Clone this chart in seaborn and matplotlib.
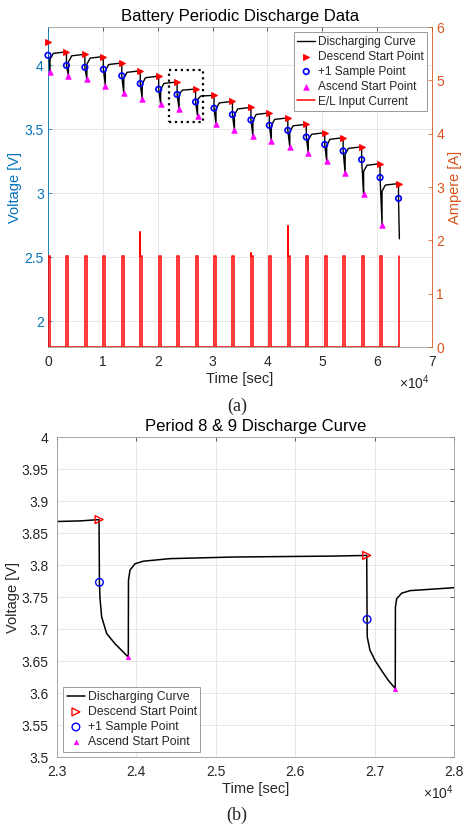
import matplotlib
matplotlib.use("Agg")
import matplotlib.pyplot as plt
import seaborn as sns
from matplotlib.patches import Rectangle
from matplotlib.ticker import FuncFormatter

# ---- data (time in s, voltage in V, current in A) ----
# one entry per discharge period
desc_t = [0, 3360, 6720, 10090, 13450, 16810, 20170, 23532, 26897, 30260,
          33620, 36990, 40350, 43710, 47080, 50440, 53800, 57170, 60530, 63890]
desc_v = [4.185, 4.106, 4.087, 4.069, 4.019, 3.958, 3.916, 3.871, 3.815, 3.766,
          3.719, 3.672, 3.629, 3.590, 3.540, 3.474, 3.435, 3.364, 3.232, 3.077]
samp_v = [4.079, 4.000, 3.985, 3.969, 3.919, 3.858, 3.814, 3.773, 3.715, 3.666,
          3.616, 3.574, 3.532, 3.493, 3.440, 3.382, 3.332, 3.264, 3.124, 2.961]
asc_t = [360, 3720, 7080, 10450, 13810, 17170, 20530, 23900, 27256, 30620,
         33980, 37350, 40710, 44070, 47440, 50800, 54160, 57530, 60890]
asc_v = [3.948, 3.919, 3.890, 3.843, 3.782, 3.735, 3.698, 3.656, 3.607, 3.545,
         3.493, 3.451, 3.408, 3.366, 3.319, 3.253, 3.158, 2.998, 2.756]
# top of the recovery jump and the value once it has settled
jump_v = [4.046, 4.027, 4.009, 3.959, 3.898, 3.856, 3.811, 3.776, 3.734, 3.659,
          3.612, 3.569, 3.530, 3.480, 3.414, 3.375, 3.304, 3.172, 3.017]
settle_t = [960, 4320, 7680, 11050, 14410, 17770, 21130, 24500, 27856, 31220,
            34580, 37950, 41310, 44670, 48040, 51400, 54760, 58130, 61490]
settle_v = [4.094, 4.075, 4.057, 4.007, 3.946, 3.904, 3.859, 3.807, 3.761, 3.707,
            3.660, 3.617, 3.578, 3.528, 3.462, 3.423, 3.352, 3.220, 3.065]
end_t, end_v = 64050, 2.645

# E/L load current
pulse_level = 1.70
pulse_peak = [1.70, 1.70, 1.70, 1.70, 1.70, 2.16, 1.70, 1.70, 1.70, 1.70,
              1.70, 1.76, 1.70, 2.27, 1.70, 1.70, 1.70, 1.70, 1.70, 1.70]

# detailed curve for period 8 & 9 (panel b)
zoom_t = [23000, 23300, 23532, 23537, 23544, 23565, 23628, 23733, 23837, 23900,
          23902, 23921, 23984, 24089, 24424, 25220, 26478, 26897, 26902, 26904,
          26938, 27001, 27085, 27168, 27256, 27258, 27274, 27337, 27441, 27986, 28000]
zoom_v = [3.868, 3.869, 3.871, 3.773, 3.748, 3.719, 3.693, 3.677, 3.664, 3.656,
          3.776, 3.792, 3.802, 3.806, 3.810, 3.8125, 3.814, 3.815, 3.715, 3.6875,
          3.667, 3.651, 3.635, 3.620, 3.607, 3.734, 3.7475, 3.756, 3.760, 3.7645, 3.765]
zoom_samp_t = [23537, 26902]
box_t = [22000, 28300]
box_v = [3.555, 3.963]

# ---- build the period-by-period line for panel (a) ----
curve_t, curve_v = [], []
for k in range(len(asc_t)):
    curve_t += [desc_t[k], desc_t[k], asc_t[k], asc_t[k], settle_t[k]]
    curve_v += [desc_v[k], samp_v[k], asc_v[k], jump_v[k], settle_v[k]]
curve_t += [desc_t[-1], desc_t[-1], end_t]
curve_v += [desc_v[-1], samp_v[-1], end_v]

cur_t, cur_a = [], []
for k in range(len(desc_t)):
    cur_t += [desc_t[k], desc_t[k], desc_t[k]]
    cur_a += [0, pulse_peak[k], pulse_level]
    if k < len(asc_t):
        cur_t += [asc_t[k], asc_t[k]]
        cur_a += [pulse_level, 0]

# ---- style ----
sns.set_theme(style="whitegrid")
plt.rcParams["font.family"] = ["Liberation Sans", "DejaVu Sans"]
plt.rcParams["mathtext.default"] = "regular"
plt.rcParams["axes.unicode_minus"] = False

BLUE = "#0072BD"
ORANGE = "#D95319"
GRAY = "#262626"
GRID = "#e3e3e3"

fig = plt.figure(figsize=(4.63, 8.26), dpi=100)

# ================= panel (a) =================
ax1 = fig.add_axes([0.1037, 0.5799, 0.8294, 0.3874])
ax2 = ax1.twinx()

sns.lineplot(x=curve_t, y=curve_v, sort=False, estimator=None, color="black",
             lw=1.0, ax=ax1, label="Discharging Curve")
sns.scatterplot(x=desc_t, y=desc_v, marker=">", s=17, color="red", clip_on=False,
                edgecolor="red", linewidth=0.8, ax=ax1, label="Descend Start Point", zorder=4)
sns.scatterplot(x=desc_t, y=samp_v, marker="o", s=16, facecolors="none", clip_on=False,
                edgecolor="blue", linewidth=1.2, ax=ax1, label="+1 Sample Point", zorder=4)
sns.scatterplot(x=asc_t, y=asc_v, marker="^", s=16, color="magenta",
                edgecolor="magenta", linewidth=0.5, ax=ax1, label="Ascend Start Point", zorder=4)
sns.lineplot(x=cur_t, y=cur_a, sort=False, estimator=None, color="red",
             lw=1.1, ax=ax2, label="E/L Input Current")

ax1.add_patch(Rectangle((box_t[0], box_v[0]), box_t[1] - box_t[0], box_v[1] - box_v[0],
                        fill=False, ls=":", lw=1.6, color="black", zorder=5))

ax1.set_xlim(0, 70000)
ax1.set_ylim(1.8, 4.3)
ax2.set_ylim(0, 6)
ax1.set_xticks([0, 10000, 20000, 30000, 40000, 50000, 60000, 70000])
ax1.set_yticks([2, 2.5, 3, 3.5, 4])
ax2.set_yticks([0, 1, 2, 3, 4, 5, 6])
ax1.xaxis.set_major_formatter(FuncFormatter(lambda x, p: f"{x / 1e4:g}"))
ax1.yaxis.set_major_formatter(FuncFormatter(lambda y, p: f"{y:g}"))

ax1.grid(True, color=GRID, lw=0.6)
ax2.grid(False)
for s in ["top", "bottom"]:
    ax1.spines[s].set_color("#9a9a9a")
    ax1.spines[s].set_linewidth(0.6)
ax1.spines["left"].set_color(BLUE)
ax1.spines["left"].set_linewidth(0.6)
ax1.spines["right"].set_visible(False)
for s in ["left", "top", "bottom"]:
    ax2.spines[s].set_visible(False)
ax2.spines["right"].set_color(ORANGE)
ax2.spines["right"].set_linewidth(0.6)

ax1.tick_params(axis="x", direction="in", length=3, width=0.5, top=True,
                labelsize=10, colors=GRAY, pad=6)
ax1.tick_params(axis="y", direction="in", length=3, width=0.5, colors=BLUE,
                labelsize=10, pad=3, left=True)
ax2.tick_params(axis="y", direction="in", length=3, width=0.5, colors=ORANGE,
                labelsize=10, pad=3, right=True)

ax1.set_xlabel("Time [sec]", fontsize=10.5, color=GRAY, labelpad=2)
ax1.set_ylabel("Voltage [V]", fontsize=10.5, color=BLUE, labelpad=2)
ax2.set_ylabel("Ampere [A]", fontsize=10.5, color=ORANGE, labelpad=3)
ax1.set_title("Battery Periodic Discharge Data", fontsize=12, color="black", pad=4)
ax1.text(0.995, -0.1125, "×10$^4$", transform=ax1.transAxes, ha="right",
         va="center", fontsize=10, color=GRAY)

h1, l1 = ax1.get_legend_handles_labels()
h2, l2 = ax2.get_legend_handles_labels()
if ax1.get_legend() is not None:
    ax1.get_legend().remove()
leg = ax2.legend(h1 + h2, l1 + l2, loc="upper right", bbox_to_anchor=(0.987, 0.984),
                 borderaxespad=0, fontsize=8.6, frameon=True, fancybox=False,
                 framealpha=1, edgecolor="#8a8a8a", handlelength=1.5,
                 handletextpad=0.2, labelspacing=0.25, borderpad=0.3)
leg.get_frame().set_linewidth(0.6)

fig.text(0.512, 0.5085, "(a)", ha="center", va="center", fontsize=13,
         family="Liberation Serif", color=GRAY)

# ================= panel (b) =================
axb = fig.add_axes([0.1225, 0.0835, 0.8590, 0.3874])

sns.lineplot(x=zoom_t, y=zoom_v, sort=False, estimator=None, color="black",
             lw=1.1, ax=axb, label="Discharging Curve")
sns.scatterplot(x=desc_t, y=desc_v, marker=">", s=32, facecolors="none",
                edgecolor="red", linewidth=1.0, ax=axb, label="Descend Start Point", zorder=4)
sns.scatterplot(x=zoom_samp_t, y=samp_v[7:9], marker="o", s=30, facecolors="none",
                edgecolor="blue", linewidth=1.0, ax=axb, label="+1 Sample Point", zorder=4)
sns.scatterplot(x=asc_t, y=asc_v, marker="^", s=10, color="magenta",
                edgecolor="magenta", linewidth=0.5, ax=axb, label="Ascend Start Point", zorder=4)

axb.set_xlim(23000, 28000)
axb.set_ylim(3.5, 4.0)
axb.set_xticks([23000, 24000, 25000, 26000, 27000, 28000])
axb.set_yticks([3.5, 3.55, 3.6, 3.65, 3.7, 3.75, 3.8, 3.85, 3.9, 3.95, 4.0])
axb.xaxis.set_major_formatter(FuncFormatter(lambda x, p: f"{x / 1e4:g}"))
axb.yaxis.set_major_formatter(FuncFormatter(lambda y, p: f"{y:g}"))
axb.grid(True, color=GRID, lw=0.6)
for s in axb.spines.values():
    s.set_color("#9a9a9a")
    s.set_linewidth(0.6)
axb.tick_params(direction="in", length=3, width=0.5, top=True, right=True,
                labelsize=10, colors=GRAY)
axb.tick_params(axis="x", pad=6)
axb.tick_params(axis="y", pad=6)
axb.set_xlabel("Time [sec]", fontsize=10.5, color=GRAY, labelpad=2)
axb.set_ylabel("Voltage [V]", fontsize=10.5, color=GRAY, labelpad=1)
axb.set_title("Period 8 & 9 Discharge Curve", fontsize=12, color="black", pad=4)
axb.text(0.998, -0.1125, "×10$^4$", transform=axb.transAxes, ha="right",
         va="center", fontsize=10, color=GRAY)

legb = axb.legend(loc="lower left", bbox_to_anchor=(0.016, 0.016), borderaxespad=0,
                  fontsize=8.8, frameon=True, fancybox=False, framealpha=1,
                  edgecolor="#8a8a8a", handlelength=1.5, handletextpad=0.2,
                  labelspacing=0.25, borderpad=0.3)
legb.get_frame().set_linewidth(0.6)

fig.text(0.512, 0.0133, "(b)", ha="center", va="center", fontsize=13,
         family="Liberation Serif", color=GRAY)

fig.savefig("out.png", dpi=100)
